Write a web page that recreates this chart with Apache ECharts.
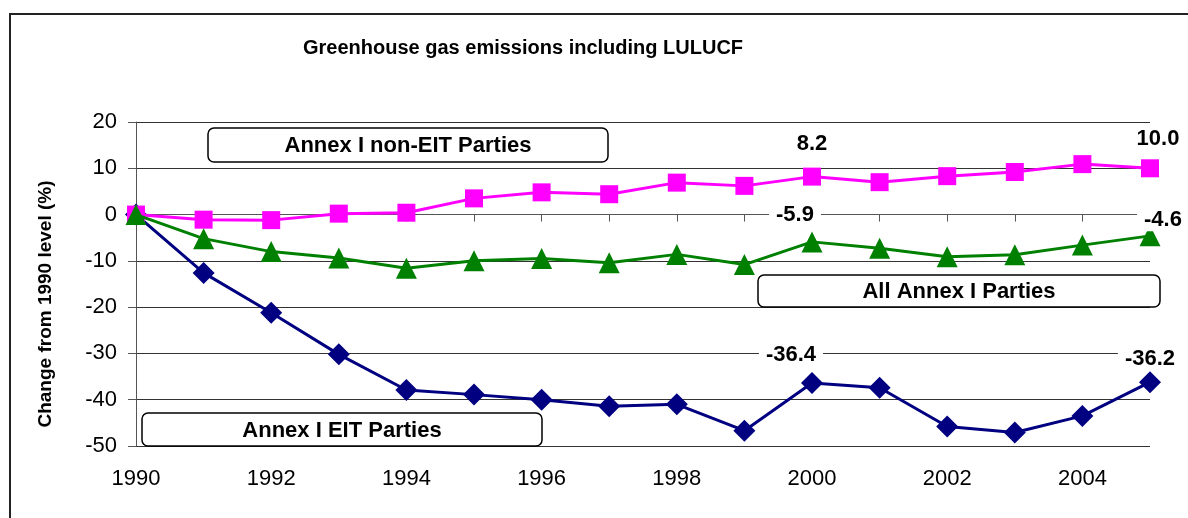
<!DOCTYPE html>
<html>
<head>
<meta charset="utf-8">
<script src="https://cdn.jsdelivr.net/npm/echarts@6/dist/echarts.min.js"></script>
<style>
  html, body { margin: 0; padding: 0; background: #fff; }
  #chart { width: 1188px; height: 518px; }
</style>
</head>
<body>
<div id="chart"></div>
<script>
var years = ['1990', '1991', '1992', '1993', '1994', '1995', '1996', '1997',
             '1998', '1999', '2000', '2001', '2002', '2003', '2004', '2005'];

var nonEit = [0, -1.1, -1.2, 0.2, 0.4, 3.5, 4.8, 4.4, 6.9, 6.2, 8.2, 7.0, 8.3, 9.2, 10.9, 10.0];
var allAnnex = [0, -5.2, -8.0, -9.4, -11.6, -10.0, -9.5, -10.4, -8.6, -10.8, -5.9, -7.3, -9.1, -8.7, -6.6, -4.6];
var eit = [0, -12.6, -21.2, -30.2, -37.9, -38.9, -40.0, -41.4, -41.0, -46.7, -36.4, -37.4, -45.8, -47.1, -43.5, -36.2];

var yTicks = [20, 10, 0, -10, -20, -30, -40, -50];

// which points get a value label, and how far to push it
var labelAt = {
    nonEit: { 10: [0, -8], 15: [8, -4] },
    allAnnex: { 10: [-17, 0], 15: [13, 11] },
    eit: { 10: [-21, -1], 15: [0, 4] }
};

var labelStyle = {
    show: true,
    position: 'top',
    fontFamily: 'Liberation Sans',
    fontWeight: 'bold',
    fontSize: 22,
    color: '#000',
    backgroundColor: '#fff',
    padding: [0, 7],
    formatter: function (p) { return p.value.toFixed(1); }
};

function build(values, marks) {
    return values.map(function (v, i) {
        if (marks[i]) {
            return { value: v, label: Object.assign({}, labelStyle, { offset: marks[i] }) };
        }
        return v;
    });
}

function box(x, y, w, h, text) {
    return {
        type: 'group',
        z: 50,
        children: [
            {
                type: 'rect',
                shape: { x: x, y: y, width: w, height: h, r: 6 },
                style: { fill: '#fff', stroke: '#000', lineWidth: 1.5 },
                z: 50
            },
            {
                type: 'text',
                x: x + w / 2,
                y: y + h / 2 + 1,
                style: {
                    text: text,
                    align: 'center',
                    verticalAlign: 'middle',
                    fontFamily: 'Liberation Sans',
                    fontWeight: 'bold',
                    fontSize: 22,
                    fill: '#000'
                },
                z: 51
            }
        ]
    };
}

var chart = echarts.init(document.getElementById('chart'));

var option = {
    animation: false,
    backgroundColor: '#fff',
    title: {
        text: 'Greenhouse gas emissions including LULUCF',
        left: 298,
        top: 33,
        textStyle: {
            fontFamily: 'Liberation Sans',
            fontWeight: 'bold',
            fontSize: 20,
            color: '#000'
        }
    },
    grid: { left: 136, right: 38, top: 122, bottom: 72, containLabel: false },
    xAxis: {
        type: 'category',
        data: years,
        boundaryGap: false,
        axisLine: { lineStyle: { color: '#555', width: 1 } },
        axisTick: { show: true, length: 7, interval: 0, lineStyle: { color: '#555' } },
        axisLabel: {
            interval: 1,
            margin: 22,
            fontFamily: 'Liberation Sans',
            fontSize: 22,
            color: '#000'
        },
        splitLine: { show: false }
    },
    yAxis: {
        type: 'value',
        min: -50,
        max: 20,
        interval: 10,
        axisLine: { show: true, lineStyle: { color: '#555', width: 1 } },
        axisTick: { show: true, length: 8, lineStyle: { color: '#555' } },
        axisLabel: {
            margin: 19,
            fontFamily: 'Liberation Sans',
            fontSize: 22,
            color: '#000',
            formatter: function (v) { return yTicks.indexOf(v) >= 0 ? String(v) : ''; }
        },
        splitLine: { show: true, lineStyle: { color: '#333', width: 1 } }
    },
    series: [
        {
            name: 'Annex I non-EIT Parties',
            type: 'line',
            data: build(nonEit, labelAt.nonEit),
            symbol: 'rect',
            symbolSize: 18,
            color: '#ff00ff',
            lineStyle: { width: 3, color: '#ff00ff' },
            itemStyle: { color: '#ff00ff' },
            z: 4
        },
        {
            name: 'All Annex I Parties',
            type: 'line',
            data: build(allAnnex, labelAt.allAnnex),
            symbol: 'triangle',
            symbolSize: 21,
            color: '#008000',
            lineStyle: { width: 3, color: '#008000' },
            itemStyle: { color: '#008000' },
            z: 5
        },
        {
            name: 'Annex I EIT Parties',
            type: 'line',
            data: build(eit, labelAt.eit),
            symbol: 'diamond',
            symbolSize: 22,
            color: '#000080',
            lineStyle: { width: 3, color: '#000080' },
            itemStyle: { color: '#000080' },
            z: 3
        }
    ],
    graphic: [
        {
            type: 'rect',
            shape: { x: 10, y: 14, width: 1200, height: 520 },
            style: { fill: 'transparent', stroke: '#222', lineWidth: 2 },
            silent: true,
            z: 100
        },
        {
            type: 'text',
            x: 46,
            y: 304,
            rotation: Math.PI / 2,
            style: {
                text: 'Change from 1990 level (%)',
                align: 'center',
                verticalAlign: 'middle',
                fontFamily: 'Liberation Sans',
                fontWeight: 'bold',
                fontSize: 19,
                fill: '#000'
            },
            z: 60
        },
        box(208, 128, 400, 34, 'Annex I non-EIT Parties'),
        box(758, 275, 402, 32, 'All Annex I Parties'),
        box(142, 413, 400, 33, 'Annex I EIT Parties')
    ]
};

chart.setOption(option);
</script>
</body>
</html>
